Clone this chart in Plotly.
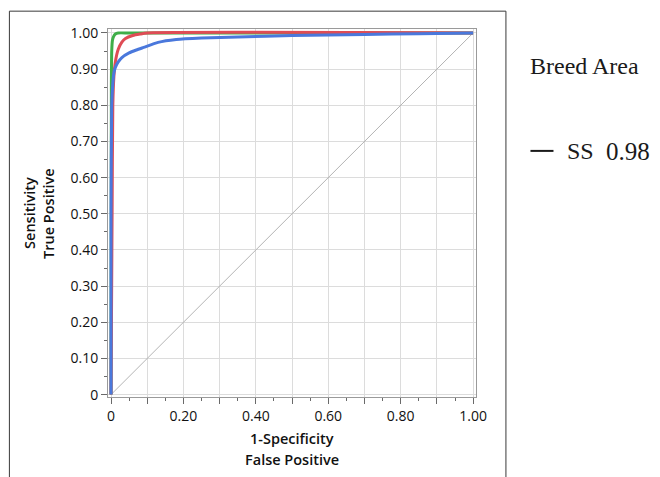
import plotly.graph_objects as go

# ---- data ----
green_fpr = [0.0, 0.001, 0.002, 0.004, 0.007, 0.012, 0.02, 0.05, 1.0]
green_tpr = [0.0, 0.85, 0.95, 0.98, 0.99, 0.997, 1.0, 1.0, 1.0]

red_fpr = [0.0, 0.003, 0.005, 0.008, 0.012, 0.02, 0.03, 0.04, 0.06, 0.08, 0.1, 1.0]
red_tpr = [0.0, 0.5, 0.8, 0.88, 0.92, 0.955, 0.975, 0.985, 0.993, 0.997, 1.0, 1.0]

blue_fpr = [0.0, 0.0, 0.002, 0.005, 0.008, 0.012, 0.02, 0.03, 0.05, 0.07, 0.09,
            0.13, 0.18, 0.25, 0.35, 0.5, 0.7, 0.85, 1.0]
blue_tpr = [0.0, 0.5, 0.8, 0.86, 0.89, 0.905, 0.92, 0.932, 0.945, 0.953, 0.96,
            0.974, 0.982, 0.986, 0.989, 0.993, 0.996, 0.998, 1.0]

ref_fpr = [0.0, 1.0]
ref_tpr = [0.0, 1.0]

y_tickvals = [0.0, 0.1, 0.2, 0.3, 0.4, 0.5, 0.6, 0.7, 0.8, 0.9, 1.0]
y_ticktext = ["0", "0.10", "0.20", "0.30", "0.40", "0.50", "0.60", "0.70", "0.80", "0.90", "1.00"]
x_tickvals = [0.0, 0.1, 0.2, 0.3, 0.4, 0.5, 0.6, 0.7, 0.8, 0.9, 1.0]
x_ticktext = ["0", "", "0.20", "", "0.40", "", "0.60", "", "0.80", "", "1.00"]

legend_title = "Breed Area"
legend_label = "SS"
legend_value = "0.98"

# ---- layout geometry (screen pixels; page body has an 8px margin) ----
OFF = 8
W, H = 660 - OFF, 477 - OFF
L, R, T, B = 108 - OFF, 475.6 - OFF, 29.3 - OFF, 396.7 - OFF


def px(xs):
    return (xs - OFF - L) / (R - L)


def py(ys):
    return (B - (ys - OFF)) / (B - T)


fig = go.Figure()
fig.add_trace(go.Scatter(x=ref_fpr, y=ref_tpr, mode="lines",
                         line=dict(color="#b4b4b4", width=1), hoverinfo="skip"))
fig.add_trace(go.Scatter(x=green_fpr, y=green_tpr, mode="lines",
                         line=dict(color="#3fae49", width=3, shape="spline", smoothing=0.6)))
fig.add_trace(go.Scatter(x=red_fpr, y=red_tpr, mode="lines",
                         line=dict(color="#df4c55", width=3, shape="spline", smoothing=0.6)))
fig.add_trace(go.Scatter(x=blue_fpr, y=blue_tpr, mode="lines",
                         line=dict(color="#4a78dc", width=3, shape="spline", smoothing=0.6)))

tickfont = dict(family="Open Sans, Noto Sans, sans-serif", size=14, color="#111111")
titlefont = dict(family="Open Sans, Noto Sans, sans-serif", size=14.5, color="#111111", weight=600)
serif = dict(family="Liberation Serif, Times New Roman, serif", size=24, color="#1a1a1a")
serif_val = dict(family="Liberation Serif, Times New Roman, serif", size=25, color="#1a1a1a")

axis_common = dict(
    showline=True, mirror=True, linecolor="#9a9a9a", linewidth=1,
    ticks="outside", ticklen=6, tickcolor="#6a6a6a", tickwidth=1,
    showgrid=True, gridcolor="#dcdcdc", gridwidth=1,
    zeroline=False, tickfont=tickfont, tickmode="array",
    minor=dict(dtick=0.05, ticklen=3, tickcolor="#6a6a6a", showgrid=False, ticks="outside"),
)

fig.update_xaxes(range=[-0.0083, 1.008], tickvals=x_tickvals, ticktext=x_ticktext, **axis_common)
fig.update_yaxes(range=[-0.0066, 1.011], tickvals=y_tickvals, ticktext=y_ticktext, **axis_common)

annotations = [
    dict(text="1-Specificity", x=0.5, y=py(438.5), xanchor="center", yanchor="middle", font=titlefont),
    dict(text="False Positive", x=0.5, y=py(459.5), xanchor="center", yanchor="middle", font=titlefont),
    dict(text="Sensitivity", x=px(29), y=py(213), xanchor="center", yanchor="middle",
         textangle=-90, font=titlefont),
    dict(text="True Positive", x=px(48), y=py(213), xanchor="center", yanchor="middle",
         textangle=-90, font=titlefont),
    dict(text=legend_title, x=px(528), y=py(66), xanchor="left", yanchor="middle", font=serif),
    dict(text=legend_label, x=px(565), y=py(151.5), xanchor="left", yanchor="middle", font=serif),
    dict(text=legend_value, x=px(603), y=py(151.5), xanchor="left", yanchor="middle", font=serif_val),
]
for a in annotations:
    a.update(xref="paper", yref="paper", showarrow=False)

shapes = [
    # outer frame
    dict(type="rect", xref="paper", yref="paper", x0=px(9.5), x1=px(505.5), y0=py(500), y1=py(11.5),
         line=dict(color="#3a3a3a", width=1), fillcolor="rgba(0,0,0,0)", layer="below"),
    # legend line sample
    dict(type="line", xref="paper", yref="paper", x0=px(530), x1=px(553), y0=py(151), y1=py(151),
         line=dict(color="#1a1a1a", width=2)),
]

fig.update_layout(
    width=W, height=H,
    margin=dict(l=L, r=W - R, t=T, b=H - B, pad=0),
    paper_bgcolor="white", plot_bgcolor="white",
    showlegend=False,
    annotations=annotations, shapes=shapes,
)

fig.write_html("out.html")
